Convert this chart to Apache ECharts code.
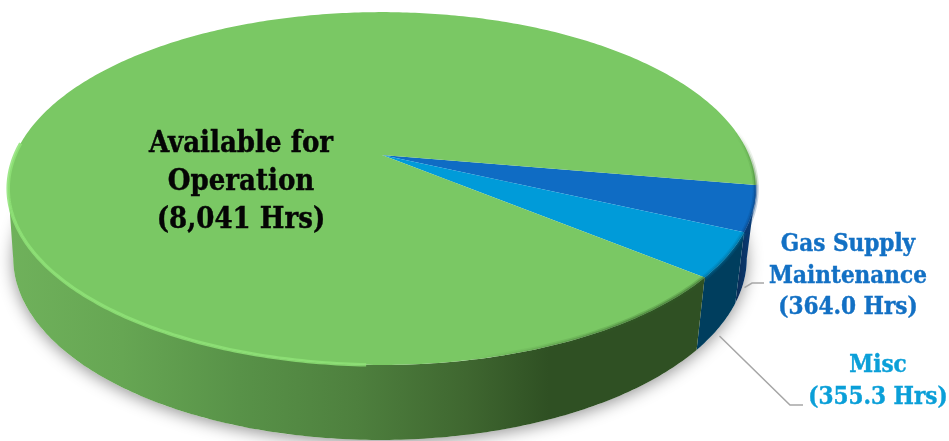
<!DOCTYPE html>
<html>
<head>
<meta charset="utf-8">
<style>html,body{margin:0;padding:0;background:#fff}#chart{width:949px;height:441px}</style>
<script src="https://cdn.jsdelivr.net/npm/echarts@6/dist/echarts.min.js"></script>
</head>
<body>
<div id="chart"></div>
<script>
// Operating hours by state, clockwise from the right-hand rim
const names = ['Gas Supply\nMaintenance', 'Misc', 'Available for\nOperation'];
const hours = [364.0, 355.3, 8041];
const hourLabels = ['(364.0 Hrs)', '(355.3 Hrs)', '(8,041 Hrs)'];

const topColors = ['#0f6cc4', '#009bd9', '#7ac864'];
const textColors = ['#1270c4', '#0a9fd8', '#050505'];

// Tilted disc: a projected circle for the top face, and a shifted ellipse for the bottom edge
const START_DEG = 9.8;
const K = -0.19, TOP_CX = 382, APEX_Y = 155, TOP_A = 367, TOP_B = 140.6;
const FACE_CX = 382, FACE_CY = 188.5, FACE_RX = 374, FACE_RY = 176.5;
const BASE_CX = 380, BASE_CY = 258, BASE_RX = 367, BASE_RY = 182;
const WALL_FROM = 11, WALL_TO = 169;

const rad = d => d * Math.PI / 180;
function topPoint(deg) {
  const c = Math.cos(rad(deg)), s = Math.sin(rad(deg)), d = 1 + K * s;
  return [TOP_CX + TOP_A * c / d, (APEX_Y + TOP_B * s) / d];
}
function basePoint(deg) {
  const p = topPoint(deg);
  return [BASE_CX + BASE_RX * (p[0] - FACE_CX) / FACE_RX,
          BASE_CY + BASE_RY * (p[1] - FACE_CY) / FACE_RY];
}
function arc(fn, a, b) {
  const pts = [], n = Math.max(2, Math.ceil(Math.abs(b - a) / 0.75));
  for (let i = 0; i <= n; i++) pts.push(fn(a + (b - a) * i / n));
  return pts;
}

const total = hours.reduce((a, b) => a + b, 0);
const spans = [];
hours.reduce((acc, v) => {
  const end = acc + v / total * 360;
  spans.push([acc, end]);
  return end;
}, START_DEG);

const wallFills = [
  { type: 'linear', x: 735, y: 0, x2: 755, y2: 0, global: true,
    colorStops: [{ offset: 0, color: '#0a2c55' }, { offset: 1, color: '#0a3f7c' }] },
  '#003e5e',
  { type: 'linear', x: 12, y: 0, x2: 700, y2: 0, global: true,
    colorStops: [
      { offset: 0, color: '#6fb15b' }, { offset: 0.16, color: '#66a653' },
      { offset: 0.33, color: '#589248' }, { offset: 0.5, color: '#4e803e' },
      { offset: 0.66, color: '#3f6730' }, { offset: 0.78, color: '#2f5023' },
      { offset: 1, color: '#2f5023' }] }
];

// Rim shading fades in along each end of the dark part of the bevel
const rimFadeRight = {
  type: 'linear', x: 0, y: 130, x2: 0, y2: 185, global: true,
  colorStops: [{ offset: 0, color: 'rgba(63,122,48,0)' }, { offset: 1, color: 'rgba(63,122,48,1)' }]
};
const rimFadeFront = {
  type: 'linear', x: 470, y: 0, x2: 640, y2: 0, global: true,
  colorStops: [{ offset: 0, color: 'rgba(47,90,35,0)' }, { offset: 1, color: 'rgba(47,90,35,1)' }]
};
const rimBlue = '#0a3f7c', rimCyan = '#006a94';

// Leader lines: from the slice's lower rim out to an elbow beside its label
const leaders = [
  { drop: 9, elbow: [752, 283], end: [764, 283] },
  { drop: 9, elbow: [790, 405], end: [803, 405] },
  null
];
const labelSpots = [
  { x: 848, y: 276.5, font: 24, line: 31.5 },
  { x: 878, y: 381.5, font: 24, line: 32 },
  { x: 241, y: 182, font: 29, line: 38 }
];
const LABEL_FONT = '"DejaVu Serif Condensed", "DejaVu Serif", serif';

const chart = echarts.init(document.getElementById('chart'), null, { renderer: 'canvas' });
const sliceData = hours.map((v, i) => ({ name: names[i], value: [i, v] }));

chart.setOption({
  animation: false,
  backgroundColor: '#ffffff',
  series: [
    { // soft ground shadow under the lower half of the disc
      type: 'custom', coordinateSystem: 'none', silent: true, z: 1,
      data: [[0]],
      renderItem() {
        return {
          type: 'polygon', shape: { points: arc(basePoint, -14, 194) },
          style: { fill: '#ffffff', shadowBlur: 16, shadowColor: 'rgba(0,0,0,0.42)', shadowOffsetY: 3 }
        };
      }
    },
    { // outer walls
      type: 'custom', coordinateSystem: 'none', silent: true, z: 2,
      data: sliceData,
      renderItem(params, api) {
        const i = api.value(0);
        const a = Math.max(spans[i][0], WALL_FROM), b = Math.min(spans[i][1], WALL_TO);
        if (b <= a) return { type: 'group', children: [] };
        const pts = arc(topPoint, a, b).concat(arc(basePoint, b, a));
        return { type: 'polygon', shape: { points: pts }, style: { fill: wallFills[i] } };
      }
    },
    { // top faces
      type: 'custom', coordinateSystem: 'none', silent: true, z: 3,
      data: sliceData,
      renderItem(params, api) {
        const i = api.value(0);
        const pts = [[TOP_CX, APEX_Y]].concat(arc(topPoint, spans[i][0], spans[i][1]));
        return { type: 'polygon', shape: { points: pts }, style: { fill: topColors[i] } };
      }
    },
    { // bevel: dark on the right-hand rim, bright along the front-left rim
      type: 'custom', coordinateSystem: 'none', silent: true, z: 4,
      data: [[0]],
      renderItem() {
        const g = {
          type: 'linear', x: 8, y: 0, x2: 470, y2: 0, global: true,
          colorStops: [
            { offset: 0, color: 'rgba(142,226,118,0.95)' },
            { offset: 0.75, color: 'rgba(142,226,118,0.95)' },
            { offset: 1, color: 'rgba(142,226,118,0)' }]
        };
        const children = [
          { type: 'polyline', shape: { points: arc(topPoint, 92, 184) },
            style: { fill: null, stroke: g, lineWidth: 3.5, opacity: 0.9 } }
        ];
        [[-8, spans[0][0], rimFadeRight], [spans[0][0], spans[0][1], rimBlue],
         [spans[1][0], spans[1][1], rimCyan], [spans[1][1], 84, rimFadeFront]].forEach(r => {
          [[6, 0.22], [3, 0.4]].forEach(w => {
            children.push({ type: 'polyline', shape: { points: arc(topPoint, r[0], r[1]) },
              style: { fill: null, stroke: r[2], lineWidth: w[0], opacity: w[1] } });
          });
        });
        return { type: 'group', children };
      }
    },
    { // labels and leader lines
      type: 'custom', coordinateSystem: 'none', silent: true, z: 5,
      data: sliceData,
      renderItem(params, api) {
        const i = api.value(0), spot = labelSpots[i], children = [];
        if (leaders[i]) {
          const p = basePoint((spans[i][0] + spans[i][1]) / 2);
          children.push({
            type: 'polyline',
            shape: { points: [[p[0], p[1] + leaders[i].drop], leaders[i].elbow, leaders[i].end] },
            style: { fill: null, stroke: '#a6a6a6', lineWidth: 1.5 }
          });
        }
        children.push({
          type: 'text', x: spot.x, y: spot.y,
          style: {
            text: names[i] + '\n' + hourLabels[i],
            fill: textColors[i], align: 'center', verticalAlign: 'middle',
            font: 'bold ' + spot.font + 'px ' + LABEL_FONT,
            lineHeight: spot.line,
            stroke: textColors[i], lineWidth: 0.4
          }
        });
        return { type: 'group', children };
      }
    }
  ]
});
</script>
</body>
</html>
